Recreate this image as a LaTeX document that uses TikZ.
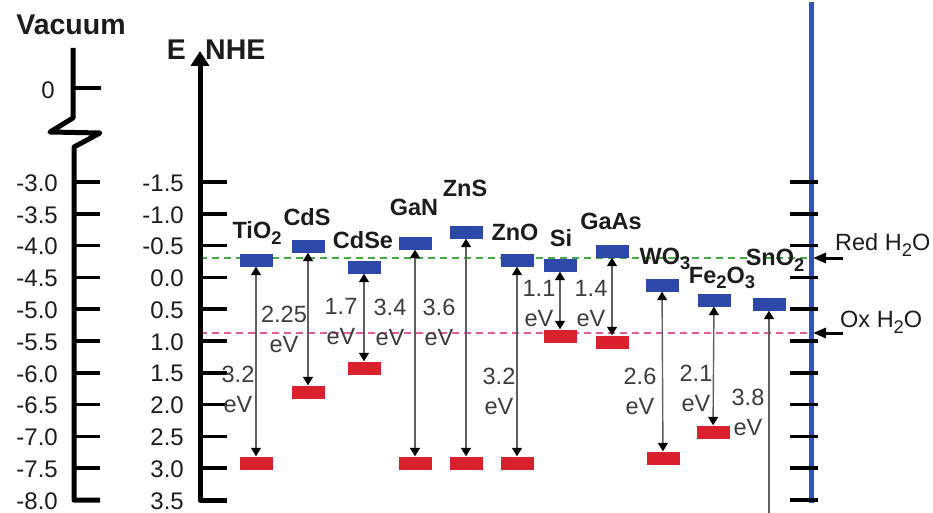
\documentclass[tikz,border=0pt]{standalone}
\usepackage{fontspec}
\setmainfont{Liberation Sans}
\usetikzlibrary{arrows.meta}
\definecolor{cbblue}{RGB}{44,72,168}
\definecolor{vbred}{RGB}{218,32,44}
\definecolor{axisblue}{RGB}{52,82,190}
\definecolor{redoxgreen}{RGB}{70,170,70}
\definecolor{redoxpink}{RGB}{228,90,160}
\definecolor{gapgray}{RGB}{95,95,95}
\definecolor{gaptext}{RGB}{60,60,60}
\definecolor{inkdark}{RGB}{28,28,28}
% lowered subscript that keeps the surrounding font
\newcommand{\dn}[1]{\raisebox{-0.45ex}{\scalebox{0.78}{#1}}}

\begin{document}
\begin{tikzpicture}[x=1pt,y=-1pt,
  every node/.style={inner sep=0pt,text=inkdark},
  ticklbl/.style={font=\fontsize{24}{28}\selectfont,anchor=east},
  titlelbl/.style={font=\fontsize{28.5}{30}\selectfont\bfseries},
  axisline/.style={line width=5pt,black,line join=round},
  tickline/.style={line width=3.5pt,black},
  cbbox/.style={fill=cbblue,minimum width=33pt,minimum height=13pt},
  vbbox/.style={fill=vbred,minimum width=33pt,minimum height=13pt},
  matlbl/.style={font=\fontsize{23.5}{28}\selectfont\bfseries},
  gaplbl/.style={font=\fontsize{23.5}{30}\selectfont,align=center,text=gaptext},
  gaparrow/.style={line width=1.4pt,gapgray,
    {Triangle[width=10pt,length=8.5pt,color=black]}-{Triangle[width=10pt,length=8.5pt,color=black]}},
  uparrow/.style={line width=1.4pt,gapgray,-{Triangle[width=10pt,length=8.5pt,color=black]}},
  redoxlbl/.style={font=\fontsize{23.5}{26}\selectfont,anchor=west},
  redoxarrow/.style={line width=3pt,black,-{Triangle[width=10pt,length=13pt]}},
  levelline/.style={line width=1.5pt,dash pattern=on 7pt off 5pt}
]
\useasboundingbox (0,0) rectangle (933,513);

% water redox levels
\draw[levelline,redoxgreen] (200,258) -- (811,258);
\draw[levelline,redoxpink] (200,333) -- (811,333);

% vacuum scale with axis break
\node[titlelbl] (vactitle) at (71,25) {Vacuum};
\draw[axisline] (73,48) -- (73,118) -- (50,132) -- (100,133) -- (74,147) -- (74,500) -- (100,500);
\draw[tickline] (73,88) -- (101,88);
\node[ticklbl] (vaczero) at (55,90) {0};
\foreach \lbl [count=\k from 0] in {-3.0,-3.5,-4.0,-4.5,-5.0,-5.5,-6.0,-6.5,-7.0,-7.5,-8.0}{
  \pgfmathsetmacro{\yy}{182+\k*31.8}
  \ifnum\k<10 \draw[tickline] (74,\yy) -- (100,\yy); \fi
  \node[ticklbl] (vac\k) at (58,\yy+1) {\lbl};
}

% NHE scale
\node[titlelbl,anchor=east] (etitle) at (186,50) {E};
\node[titlelbl,anchor=west] (nhetitle) at (205,50) {NHE};
\draw[axisline,-{Triangle[width=18pt,length=15pt]}] (227,500) -- (200,500) -- (200,51);
\foreach \lbl [count=\k from 0] in {-1.5,-1.0,-0.5,0.0,0.5,1.0,1.5,2.0,2.5,3.0,3.5}{
  \pgfmathsetmacro{\yy}{182+\k*31.8}
  \ifnum\k<10 \draw[tickline] (200,\yy) -- (227,\yy); \fi
  \node[ticklbl] (nhe\k) at (184,\yy+1) {\lbl};
}

% right-hand scale
\draw[line width=5pt,axisblue] (811,2) -- (811,503);
\foreach \k in {0,...,10}{
  \pgfmathsetmacro{\yy}{182+\k*31.8}
  \draw[tickline] (790,\yy) -- (818,\yy);
}

% redox labels
\node[redoxlbl] (redtxt) at (835,245) {Red H\dn{2}O};
\node[redoxlbl] (oxtxt) at (840,322) {Ox H\dn{2}O};
\coordinate (redtail) at (843,258);
\coordinate (redlvl) at (813,258);
\coordinate (oxtail) at (843,333);
\coordinate (oxlvl) at (813,333);
\draw[redoxarrow] (redtail) -- (redlvl);
\draw[redoxarrow] (oxtail) -- (oxlvl);

% band edges: conduction (blue) and valence (red)
\node[cbbox] (tio2cb) at (256,260) {};  \node[vbbox] (tio2vb) at (256,463) {};
\node[cbbox] (cdscb)  at (308,246) {};  \node[vbbox] (cdsvb)  at (308,392) {};
\node[cbbox] (cdsecb) at (364,267) {};  \node[vbbox] (cdsevb) at (364,368) {};
\node[cbbox] (gancb)  at (415,243) {};  \node[vbbox] (ganvb)  at (415,463) {};
\node[cbbox] (znscb)  at (466,232) {};  \node[vbbox] (znsvb)  at (466,463) {};
\node[cbbox] (znocb)  at (517,260) {};  \node[vbbox] (znovb)  at (517,463) {};
\node[cbbox] (sicb)   at (560,265) {};  \node[vbbox] (sivb)   at (560,336) {};
\node[cbbox] (gaascb) at (612,251) {};  \node[vbbox] (gaasvb) at (612,342) {};
\node[cbbox] (wo3cb)  at (662,285) {};  \node[vbbox] (wo3vb)  at (663,458) {};
\node[cbbox] (fe2o3cb) at (714,300) {}; \node[vbbox] (fe2o3vb) at (713,432) {};
\node[cbbox] (sno2cb) at (769,304) {};
\coordinate (sno2low) at (769,513);

% band gaps
\draw[gaparrow] (tio2cb) -- (tio2vb);
\draw[gaparrow] (cdscb) -- (cdsvb);
\draw[gaparrow] (cdsecb) -- (cdsevb);
\draw[gaparrow] (gancb) -- (ganvb);
\draw[gaparrow] (znscb) -- (znsvb);
\draw[gaparrow] (znocb) -- (znovb);
\draw[gaparrow] (sicb) -- (sivb);
\draw[gaparrow] (gaascb) -- (gaasvb);
\draw[gaparrow] (wo3cb) -- (wo3vb);
\draw[gaparrow] (fe2o3cb) -- (fe2o3vb);
\draw[uparrow] (sno2low) -- (sno2cb);

% material names
\node[matlbl] (tio2lbl) at (257,233) {TiO\dn{2}};
\node[matlbl] (cdslbl)  at (307,217) {CdS};
\node[matlbl] (cdselbl) at (363,240) {CdSe};
\node[matlbl] (ganlbl)  at (414,207) {GaN};
\node[matlbl] (znslbl)  at (465,188) {ZnS};
\node[matlbl] (znolbl)  at (515,232) {ZnO};
\node[matlbl] (silbl)   at (561,238) {Si};
\node[matlbl] (gaaslbl) at (611,221) {GaAs};
\node[matlbl] (wo3lbl)  at (665,259) {WO\dn{3}};
\node[matlbl] (fe2o3lbl) at (722,278) {Fe\dn{2}O\dn{3}};
\node[matlbl] (sno2lbl) at (775,260) {SnO\dn{2}};

% gap values
\node[gaplbl] (tio2gap) at (238,389) {3.2\\eV};
\node[gaplbl] (cdsgap)  at (284,329) {2.25\\eV};
\node[gaplbl] (cdsegap) at (341,322) {1.7\\eV};
\node[gaplbl] (gangap)  at (390,322) {3.4\\eV};
\node[gaplbl] (znsgap)  at (439,322) {3.6\\eV};
\node[gaplbl] (znogap)  at (499,391) {3.2\\eV};
\node[gaplbl] (sigap)   at (539,304) {1.1\\eV};
\node[gaplbl] (gaasgap) at (591,304) {1.4\\eV};
\node[gaplbl] (wo3gap)  at (640,391) {2.6\\eV};
\node[gaplbl] (fe2o3gap) at (696,388) {2.1\\eV};
\node[gaplbl] (sno2gap) at (748,412) {3.8\\eV};
\end{tikzpicture}
\end{document}
